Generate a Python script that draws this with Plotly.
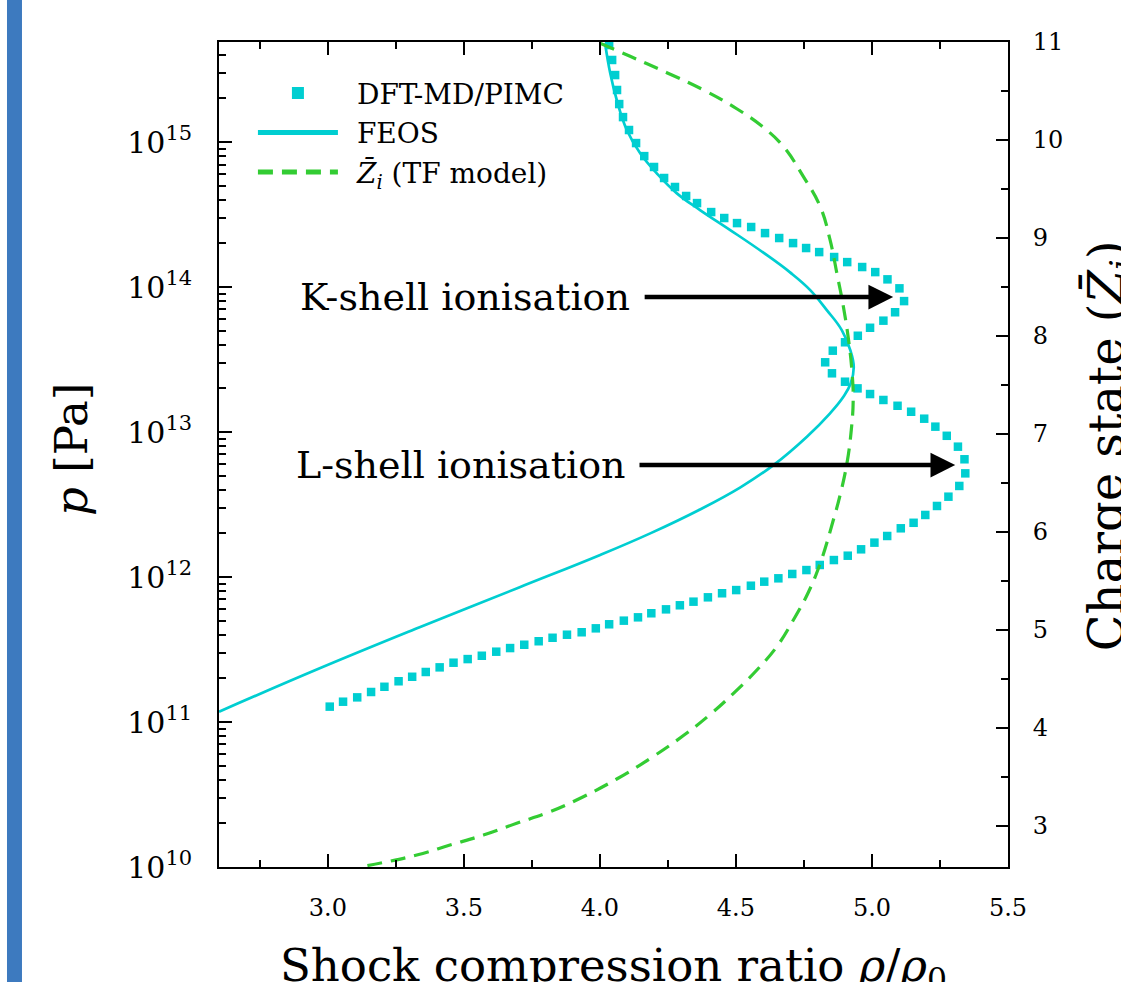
import numpy as np
import plotly.graph_objects as go

# ---------------- data ----------------
# DFT-MD/PIMC Hugoniot points: compression ratio and log10(p / Pa)
dft_ratio = [3.007, 3.056, 3.108, 3.159, 3.208, 3.260, 3.310, 3.360, 3.411, 3.462,
             3.514, 3.566, 3.619, 3.670, 3.722, 3.775, 3.826, 3.879, 3.933, 3.985,
             4.034, 4.088, 4.140, 4.189, 4.243, 4.294, 4.344, 4.397, 4.449, 4.501,
             4.555, 4.604, 4.656, 4.707, 4.759, 4.808, 4.860, 4.911, 4.960, 5.009,
             5.056, 5.106, 5.153, 5.196, 5.239, 5.281, 5.321, 5.343, 5.340, 5.316,
             5.275, 5.233, 5.192, 5.144, 5.094, 5.042, 4.993, 4.947, 4.901, 4.853,
             4.828, 4.856, 4.901, 4.948, 4.993, 5.042, 5.085, 5.118, 5.101, 5.057,
             5.012, 4.964, 4.909, 4.861, 4.806, 4.758, 4.710, 4.659, 4.607, 4.556,
             4.504, 4.457, 4.409, 4.357, 4.317, 4.276, 4.236, 4.199, 4.163, 4.133,
             4.107, 4.085, 4.071, 4.063, 4.056, 4.045, 4.034]
dft_log10_p = [11.106, 11.140, 11.170, 11.207, 11.243, 11.281, 11.312, 11.345, 11.377, 11.409,
               11.434, 11.457, 11.485, 11.510, 11.533, 11.557, 11.581, 11.602, 11.619, 11.646,
               11.674, 11.699, 11.722, 11.750, 11.777, 11.805, 11.830, 11.860, 11.888, 11.910,
               11.940, 11.968, 11.991, 12.021, 12.048, 12.083, 12.117, 12.147, 12.191, 12.237,
               12.283, 12.336, 12.374, 12.428, 12.490, 12.554, 12.628, 12.715, 12.812, 12.899,
               12.974, 13.037, 13.092, 13.140, 13.181, 13.221, 13.262, 13.301, 13.347, 13.405,
               13.481, 13.561, 13.619, 13.664, 13.719, 13.768, 13.826, 13.903, 13.991, 14.053,
               14.103, 14.138, 14.172, 14.207, 14.241, 14.269, 14.303, 14.338, 14.372, 14.414,
               14.441, 14.476, 14.517, 14.579, 14.628, 14.690, 14.752, 14.828, 14.903, 14.993,
               15.083, 15.172, 15.262, 15.359, 15.462, 15.566, 15.669]

# FEOS Hugoniot
feos_ratio = [2.600, 2.968, 3.335, 3.703, 4.001, 4.185, 4.368, 4.515, 4.638, 4.761,
              4.846, 4.895, 4.922, 4.933, 4.920, 4.889, 4.834, 4.773, 4.699, 4.601,
              4.479, 4.368, 4.283, 4.209, 4.148, 4.099, 4.062, 4.038, 4.019]
feos_log10_p = [11.071, 11.369, 11.652, 11.928, 12.152, 12.301, 12.466, 12.617, 12.772, 12.968,
                13.129, 13.243, 13.336, 13.448, 13.566, 13.703, 13.841, 13.979, 14.101, 14.237,
                14.393, 14.531, 14.646, 14.784, 14.922, 15.083, 15.290, 15.474, 15.681]

# mean ionisation (TF model), right axis
tf_ratio = [4.001, 4.111, 4.246, 4.381, 4.503, 4.601, 4.675, 4.748, 4.810, 4.846,
            4.871, 4.895, 4.914, 4.927, 4.931, 4.924, 4.908, 4.883, 4.858, 4.810,
            4.765, 4.711, 4.650, 4.577, 4.491, 4.405, 4.307, 4.185, 4.062, 3.939,
            3.817, 3.694, 3.572, 3.449, 3.327, 3.204, 3.118]
tf_Z = [10.987, 10.854, 10.687, 10.510, 10.319, 10.129, 9.932, 9.626, 9.319, 8.980,
        8.640, 8.299, 7.959, 7.622, 7.347, 7.041, 6.701, 6.378, 6.122, 5.681,
        5.378, 5.102, 4.830, 4.592, 4.354, 4.138, 3.923, 3.689, 3.480, 3.299,
        3.146, 3.028, 2.908, 2.806, 2.704, 2.628, 2.582]

x_tick_vals = [3.0, 3.5, 4.0, 4.5, 5.0, 5.5]
z_tick_vals = [3, 4, 5, 6, 7, 8, 9, 10, 11]

# annotation positions (ratio, log10 p)
k_arrow = dict(tail=4.159, tip=5.078, logp=13.931, label_right=4.118)
l_arrow = dict(tail=4.140, tip=5.306, logp=12.772, label_right=4.104)

CYAN = "#00CED1"
GREEN = "#33CC33"
FONT = "DejaVu Serif"
SP = "\u2002"  # en space between legend symbol and text

fig = go.Figure()
fig.add_trace(go.Scatter(
    x=feos_ratio, y=10 ** np.array(feos_log10_p), mode="lines", name=SP + "FEOS",
    line=dict(color=CYAN, width=2.7, shape="spline", smoothing=1.2), legendrank=2))
fig.add_trace(go.Scatter(
    x=dft_ratio, y=10 ** np.array(dft_log10_p), mode="markers", name=SP + "DFT-MD/PIMC",
    marker=dict(symbol="square", size=8.5, color=CYAN, line=dict(width=0)), legendrank=1))
fig.add_trace(go.Scatter(
    x=tf_ratio, y=tf_Z, yaxis="y2", mode="lines",
    name=SP + "<i>Z̄</i><sub><i>i</i></sub> (TF model)",
    line=dict(color=GREEN, width=3.2, dash="15px,9px", shape="spline", smoothing=1.2),
    legendrank=3))

axis_common = dict(showline=True, linewidth=2, linecolor="black", showgrid=False,
                   zeroline=False, ticks="inside", tickwidth=2, tickcolor="black")

fig.update_layout(
    width=1121, height=982,
    margin=dict(l=219, r=113, t=42, b=115, autoexpand=False),
    paper_bgcolor="white", plot_bgcolor="white",
    font=dict(family=FONT, color="black", size=24),
    xaxis=dict(range=[2.6, 5.5], tickvals=x_tick_vals, tickformat=".1f", ticklen=13,
               mirror="ticks", ticklabelstandoff=18,
               minor=dict(ticks="inside", ticklen=7, tickwidth=1.5, dtick=0.25, tick0=2.75,
                          tickcolor="black", showgrid=False),
               **axis_common),
    yaxis=dict(type="log", range=[10, 15.69], dtick=1, exponentformat="power", ticklen=13,
               ticklabelstandoff=20,
               minor=dict(ticks="inside", ticklen=7, tickwidth=1.5, dtick="D1",
                          tickcolor="black", showgrid=False),
               **axis_common),
    yaxis2=dict(overlaying="y", side="right", range=[2.582, 11], tickvals=z_tick_vals,
                ticklen=12, ticklabelstandoff=18,
                minor=dict(ticks="inside", ticklen=7, tickwidth=1.5, dtick=0.5, tick0=2.5,
                           tickcolor="black", showgrid=False),
                **axis_common),
    legend=dict(x=0.043, y=0.968, xanchor="left", yanchor="top", bgcolor="rgba(0,0,0,0)",
                font=dict(size=28, family=FONT), itemwidth=80, tracegroupgap=0,
                itemsizing="constant"),
    showlegend=True,
)

annotations = []
for arr, label in [(k_arrow, "K-shell ionisation"), (l_arrow, "L-shell ionisation")]:
    annotations.append(dict(x=arr["label_right"], y=arr["logp"], xref="x", yref="y",
                            text=label, showarrow=False, xanchor="right",
                            yanchor="middle", font=dict(size=38)))
    annotations.append(dict(x=arr["tip"], y=arr["logp"], ax=arr["tail"], ay=arr["logp"],
                            xref="x", yref="y", axref="x", ayref="y", text="",
                            showarrow=True, arrowhead=2, arrowwidth=4.5, arrowsize=1.1,
                            arrowcolor="black"))
annotations += [
    dict(x=0.5, y=-0.1224, xref="paper", yref="paper",
         text="Shock compression ratio <i>ρ</i>/<i>ρ</i><sub>0</sub>",
         showarrow=False, xanchor="center", yanchor="middle", font=dict(size=45)),
    dict(x=-0.1863, y=0.5055, xref="paper", yref="paper", text="<i>p</i> [Pa]",
         textangle=-90, showarrow=False, xanchor="center", yanchor="middle",
         font=dict(size=45)),
    dict(x=1.0862, y=0.51, xref="paper", yref="paper",
         text="Charge state (<i>Z̄</i><sub><i>i</i></sub>)",
         textangle=-90, showarrow=False, xanchor="left", yanchor="middle",
         font=dict(size=48)),
]
fig.update_layout(annotations=annotations)

fig.add_shape(type="rect", xref="paper", yref="paper",
              x0=-0.2687, x1=-0.2497, y0=-0.16, y1=1.07,
              fillcolor="#3D7ABF", line=dict(width=0), layer="above")

fig.write_html("out.html", config={"displayModeBar": False},
               post_script="document.body.style.margin='0px';"
                           "document.body.style.overflow='hidden';")
